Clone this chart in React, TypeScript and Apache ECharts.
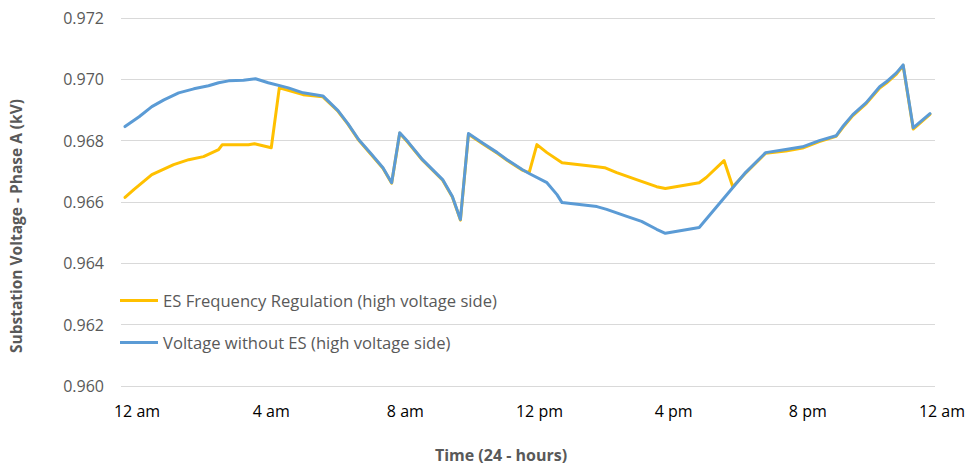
import React, { useEffect, useRef } from "react";
import * as echarts from "echarts";

const xTickHours = [0, 4, 8, 12, 16, 20, 24];
const xTickLabels = ["12 am", "4 am", "8 am", "12 pm", "4 pm", "8 pm", "12 am"];

const esHours = [
  0, 0.27, 0.8, 1.45, 1.9, 2.34, 2.79, 2.9, 3.68, 3.86, 4.36, 4.6, 5.31, 5.9,
  6.35, 6.65, 6.97, 7.33, 7.69, 7.95, 8.19, 8.43, 8.87, 9.47, 9.76, 10.0,
  10.24, 10.65, 11.1, 11.39, 11.84, 12.05, 12.28, 12.58, 13.03, 14.07, 14.3,
  14.66, 15.25, 15.85, 16.11, 17.12, 17.33, 17.86, 18.12, 18.5, 19.1, 19.7,
  20.2, 20.7, 21.2, 21.4, 21.7, 22.1, 22.5, 22.7, 23.0, 23.2, 23.5, 24.0,
];
const esValues = [
  0.96615, 0.96641, 0.96689, 0.96722, 0.96738, 0.96748, 0.96771, 0.96787,
  0.96787, 0.9679, 0.96777, 0.96972, 0.9695, 0.96943, 0.96896, 0.96853,
  0.96801, 0.96756, 0.9671, 0.96661, 0.96824, 0.96795, 0.96736, 0.96671,
  0.96616, 0.96541, 0.96821, 0.96791, 0.96759, 0.96736, 0.96704, 0.96696,
  0.96787, 0.96761, 0.96728, 0.96715, 0.96712, 0.96696, 0.96673, 0.9665,
  0.96644, 0.96663, 0.9668, 0.96735, 0.9665, 0.96694, 0.96759, 0.96766,
  0.96776, 0.96797, 0.96814, 0.96843, 0.96882, 0.96921, 0.96972, 0.96988,
  0.97017, 0.97045, 0.96838, 0.96886,
];

const baseHours = [
  0, 0.42, 0.8, 1.16, 1.6, 2.05, 2.49, 2.79, 3.09, 3.53, 3.89, 4.27, 4.87,
  5.31, 5.9, 6.35, 6.65, 6.97, 7.33, 7.69, 7.95, 8.19, 8.43, 8.87, 9.47, 9.76,
  10.0, 10.24, 10.65, 11.1, 11.39, 11.84, 12.05, 12.58, 12.88, 13.03, 14.07,
  14.36, 14.96, 15.4, 15.85, 16.11, 17.12, 18.5, 19.1, 19.7, 20.2, 20.7, 21.2,
  21.4, 21.7, 22.1, 22.5, 22.7, 23.0, 23.2, 23.5, 24.0,
];
const baseValues = [
  0.96846, 0.96878, 0.96911, 0.96933, 0.96956, 0.96969, 0.96979, 0.96989,
  0.96995, 0.96997, 0.97002, 0.96989, 0.96972, 0.96956, 0.96946, 0.96898,
  0.96855, 0.96803, 0.96758, 0.96712, 0.96663, 0.96826, 0.96797, 0.96738,
  0.96673, 0.96618, 0.96543, 0.96823, 0.96793, 0.96761, 0.96738, 0.96706,
  0.96693, 0.96663, 0.96624, 0.96598, 0.96585, 0.96576, 0.96553, 0.96537,
  0.96511, 0.96498, 0.96517, 0.96696, 0.96761, 0.96771, 0.9678, 0.968,
  0.96816, 0.96846, 0.96885, 0.96924, 0.96976, 0.96992, 0.97021, 0.97047,
  0.96842, 0.96888,
];

const seriesNames = [
  "ES Frequency Regulation (high voltage side)",
  "Voltage without ES (high voltage side)",
];

const FONT = "'Open Sans', 'Liberation Sans', sans-serif";

export default function App() {
  const ref = useRef<HTMLDivElement>(null);
  useEffect(() => {
    document.body.style.margin = "0";
    if (!ref.current) return;
    const chart = echarts.init(ref.current, undefined, { renderer: "svg" });
    chart.setOption({
      animation: false,
      backgroundColor: "#ffffff",
      textStyle: { fontFamily: FONT },
      grid: { left: 117, right: 42, top: 18, bottom: 81, containLabel: false },
      legend: {
        orient: "vertical",
        left: 115,
        top: 287,
        itemWidth: 38,
        itemHeight: 3,
        itemGap: 25,
        icon: "rect",
        textStyle: { color: "#595959", fontSize: 16.6, fontFamily: FONT },
        data: seriesNames,
      },
      xAxis: {
        type: "value",
        min: -0.12,
        max: 24.15,
        name: "Time (24 - hours)",
        nameLocation: "middle",
        nameGap: 61,
        nameTextStyle: {
          color: "#595959",
          fontSize: 16,
          fontWeight: "bold",
          fontFamily: FONT,
          padding: [0, 54, 0, 0],
        },
        axisLine: { show: false },
        axisTick: { show: false },
        splitLine: { show: false },
        axisLabel: {
          customValues: xTickHours,
          color: "#000000",
          fontSize: 16,
          margin: 17,
          padding: [0, 0, 0, 24],
          formatter: (v: number) => {
            const i = xTickHours.indexOf(Math.round(v));
            return i >= 0 ? xTickLabels[i] : "";
          },
        },
      },
      yAxis: {
        type: "value",
        min: 0.96,
        max: 0.972,
        interval: 0.002,
        name: "Substation Voltage - Phase A (kV)",
        nameLocation: "middle",
        nameGap: 97,
        nameTextStyle: {
          color: "#595959",
          fontSize: 15.5,
          fontWeight: "bold",
          fontFamily: FONT,
          padding: [0, 48, 0, 0],
        },
        axisLine: { show: false },
        axisTick: { show: false },
        splitLine: { lineStyle: { color: "#D9D9D9", width: 1 } },
        axisLabel: {
          color: "#595959",
          fontSize: 16,
          margin: 17,
          formatter: (v: number) => v.toFixed(3),
        },
      },
      series: [
        {
          name: seriesNames[0],
          type: "line",
          showSymbol: false,
          symbol: "none",
          color: "#FFC000",
          lineStyle: { color: "#FFC000", width: 3, cap: "round", join: "round" },
          data: esHours.map((h, i) => [h, esValues[i]]),
        },
        {
          name: seriesNames[1],
          type: "line",
          showSymbol: false,
          symbol: "none",
          color: "#5B9BD5",
          lineStyle: { color: "#5B9BD5", width: 3, cap: "round", join: "round" },
          data: baseHours.map((h, i) => [h, baseValues[i]]),
        },
      ],
    });
    return () => chart.dispose();
  }, []);
  return <div ref={ref} style={{ width: 977, height: 468 }} />;
}
